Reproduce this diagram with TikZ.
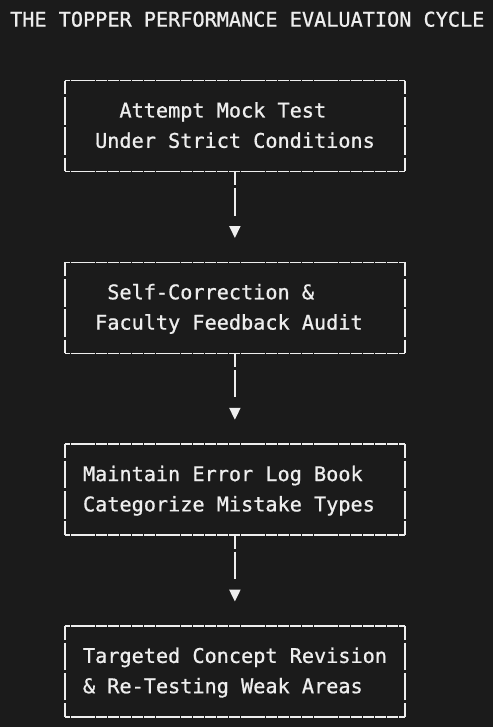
\documentclass[tikz,border=0pt]{standalone}
\usepackage{fontspec}
\setmonofont[BoldFont=DejaVu Sans Mono, BoldFeatures={FakeBold=0.9}]{DejaVu Sans Mono}
\usetikzlibrary{positioning, calc, arrows.meta}
\definecolor{termbg}{HTML}{1B1B1B}
\definecolor{termfg}{HTML}{EEEEEE}
\newcommand{\rowy}[1]{(20+30.3*(#1))}
\newcommand{\colx}[1]{(10.1+12.15*(#1))}
\newcommand{\evalstage}[6]{
    \node[stagebox] (#1) at ({\colx{18.5}},{\rowy{#2+1.5}}) {};
    \draw[hborder] (#1.north west) -- (#1.north east);
    \draw[hborder] (#1.south west) -- (#1.south east);
    \draw[vborder] (#1.north west) -- (#1.south west);
    \draw[vborder] (#1.north east) -- (#1.south east);
    \node[boxtext] (#1-top) at ({\colx{5+#3}},{\rowy{#2+1}+6.6}) {#4};
    \node[boxtext] (#1-bot) at ({\colx{5+#5}},{\rowy{#2+2}+6.6}) {#6};
}
\tikzset{
    every node/.style={text=termfg, font=\ttfamily\bfseries\fontsize{20.2}{30}\selectfont, inner sep=0pt, outer sep=0pt},
    stagebox/.style={rectangle, minimum width=340.2pt, minimum height=90.9pt},
    boxtext/.style={anchor=base west},
    hborder/.style={draw=termfg, line width=1.6pt, dash pattern=on 11.3pt off 0.85pt, dash phase=5.7pt},
    vborder/.style={draw=termfg, line width=2pt, dash pattern=on 27.6pt off 2.7pt, dash phase=13.8pt},
    flow/.style={draw=termfg, line width=2pt, dash pattern=on 13.8pt off 2.7pt on 27.6pt off 30pt,
        shorten >=24.4pt, -{Triangle[length=12pt, width=11pt]}}
}
\begin{document}
\begin{tikzpicture}[x=1pt, y=-1pt]
    \fill[termbg] (0,0) rectangle (493,727);
    \useasboundingbox (0,0) rectangle (493,727);
    \node[boxtext] (title) at ({\colx{0}},{\rowy{0}+6.6}) {THE TOPPER PERFORMANCE EVALUATION CYCLE};
    \evalstage{mock}{2}{4}{Attempt Mock Test}{2}{Under Strict Conditions}
    \evalstage{audit}{8}{3}{Self-Correction \&}{2}{Faculty Feedback Audit}
    \evalstage{errlog}{14}{1}{Maintain Error Log Book}{1}{Categorize Mistake Types}
    \evalstage{revise}{20}{1}{Targeted Concept Revision}{1}{\& Re-Testing Weak Areas}
    \draw[flow] (mock) -- (audit);
    \draw[flow] (audit) -- (errlog);
    \draw[flow] (errlog) -- (revise);
\end{tikzpicture}
\end{document}
